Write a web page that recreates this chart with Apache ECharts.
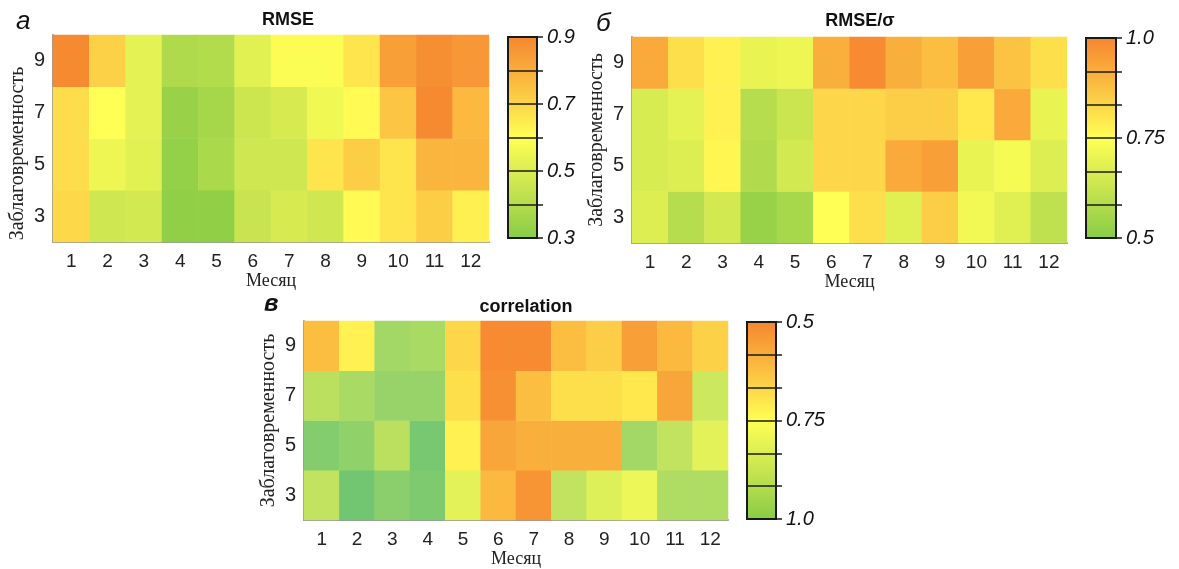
<!DOCTYPE html>
<html><head><meta charset="utf-8">
<script src="https://cdn.jsdelivr.net/npm/echarts@6/dist/echarts.min.js"></script>
<style>html,body{margin:0;padding:0;background:#fff}#c{width:1179px;height:569px}</style>
</head><body><div id="c"></div>
<script>
// ---- data ----
const months = ['1','2','3','4','5','6','7','8','9','10','11','12'];
const leads = ['3','5','7','9'];

const rmse9 = [0.89,0.72,0.53,0.39,0.40,0.52,0.59,0.59,0.67,0.84,0.88,0.86];
const rmse7 = [0.69,0.60,0.53,0.34,0.37,0.46,0.49,0.56,0.61,0.75,0.89,0.78];
const rmse5 = [0.69,0.55,0.52,0.33,0.38,0.47,0.47,0.67,0.73,0.67,0.79,0.79];
const rmse3 = [0.70,0.47,0.48,0.32,0.32,0.45,0.49,0.47,0.61,0.67,0.73,0.64];

const ratio9 = [0.93,0.82,0.78,0.70,0.71,0.92,0.99,0.92,0.89,0.95,0.88,0.82];
const ratio7 = [0.66,0.69,0.78,0.59,0.63,0.84,0.84,0.86,0.86,0.80,0.93,0.70];
const ratio5 = [0.66,0.67,0.77,0.58,0.65,0.84,0.84,0.93,0.95,0.70,0.73,0.67];
const ratio3 = [0.67,0.59,0.65,0.53,0.56,0.75,0.82,0.68,0.86,0.72,0.68,0.61];

const corr9 = [0.61,0.72,0.91,0.90,0.66,0.51,0.51,0.61,0.64,0.55,0.60,0.65];
const corr7 = [0.87,0.90,0.93,0.93,0.68,0.52,0.61,0.68,0.68,0.70,0.56,0.84];
const corr5 = [0.96,0.94,0.87,0.98,0.72,0.56,0.58,0.58,0.58,0.91,0.86,0.80];
const corr3 = [0.86,0.99,0.95,0.97,0.80,0.60,0.53,0.86,0.81,0.78,0.89,0.89];

const cbTicksA = ['0.3','','0.5','','0.7','','0.9'];
const cbTicksB = ['0.5','','','0.75','','','1.0'];
const cbTicksC = ['1.0','','','0.75','','','0.5'];

// ---- helpers ----
function cells(rows){ // rows ordered as leads
  const out = [];
  rows.forEach((arr, yi) => arr.forEach((v, xi) => out.push([xi, yi, v])));
  return out;
}
const SANS = '"Liberation Sans", Arial, sans-serif';
const SERIF = '"Liberation Serif", "Times New Roman", serif';

const heatGrids = [
  {left:53, top:35, width:436, height:207},
  {left:632, top:37, width:435, height:206},
  {left:304, top:321, width:424, height:201}
];
const cbGrids = [
  {left:508, top:37, width:29, height:201},
  {left:1086, top:38, width:30, height:200},
  {left:747, top:322, width:29, height:197}
];
const cbTicks = [cbTicksA, cbTicksB, cbTicksC];

function cbGradient(){
  return new echarts.graphic.LinearGradient(0,0,0,1,[
    {offset:0, color:'#f5862f'},
    {offset:0.25, color:'#fbc042'},
    {offset:0.5, color:'#ffff55'},
    {offset:0.75, color:'#c8e450'},
    {offset:1, color:'#88cc46'}
  ]);
}

const grid = [];
const xAxis = [];
const yAxis = [];
heatGrids.forEach((g, i) => {
  grid.push(Object.assign({containLabel:false}, g));
  xAxis.push({
    type:'category', gridIndex:i, data:months,
    axisLine:{show:true, lineStyle:{color:'#9a9a9a', width:2}},
    axisTick:{show:false},
    axisLabel:{fontFamily:SANS, fontSize:19, color:'#222', margin:10, interval:0},
    name:'Месяц', nameLocation:'middle', nameGap:30,
    nameTextStyle:{fontFamily:SERIF, fontSize:18, color:'#222'}
  });
  yAxis.push({
    type:'category', gridIndex:i, data:leads,
    axisLine:{show:true, lineStyle:{color:'#9a9a9a', width:2}},
    axisTick:{show:false},
    axisLabel:{fontFamily:SANS, fontSize:20, color:'#222', margin:8},
    name:'Заблаговременность', nameLocation:'middle', nameGap:25,
    nameTextStyle:{fontFamily:SERIF, fontSize:20, color:'#222',
      padding: i === 0 ? [0,30,0,0] : 0}
  });
});
cbGrids.forEach((g, i) => {
  grid.push(Object.assign({containLabel:false, show:true, backgroundColor:cbGradient(),
    borderColor:'#1a1a1a', borderWidth:2}, g));
  xAxis.push({type:'category', gridIndex:3+i, data:[''], show:false});
  yAxis.push({
    type:'category', gridIndex:3+i, data:cbTicks[i], boundaryGap:false, position:'right',
    axisLine:{show:false},
    axisTick:{show:true, interval:0, length:6, lineStyle:{color:'#1a1a1a', width:1.5}},
    splitLine:{show:true, interval:0, lineStyle:{color:'#1a1a1a', width:1.5}},
    axisLabel:{show:true, interval:0, margin:10, fontFamily:SANS, fontStyle:'italic',
      fontSize:20, color:'#111'}
  });
});

const series = [
  {type:'heatmap', xAxisIndex:0, yAxisIndex:0, data:cells([rmse3, rmse5, rmse7, rmse9])},
  {type:'heatmap', xAxisIndex:1, yAxisIndex:1, data:cells([ratio3, ratio5, ratio7, ratio9])},
  {type:'heatmap', xAxisIndex:2, yAxisIndex:2, data:cells([corr3, corr5, corr7, corr9])}
];

const visualMap = [
  {type:'continuous', show:false, seriesIndex:0, dimension:2, min:0.3, max:0.9,
   inRange:{color:['#88cc46','#c8e450','#ffff55','#fcc644','#f5862f']}},
  {type:'continuous', show:false, seriesIndex:1, dimension:2, min:0.5, max:1.0,
   inRange:{color:['#88cc46','#c8e450','#ffff55','#fcc644','#f5862f']}},
  {type:'continuous', show:false, seriesIndex:2, dimension:2, min:0.5, max:1.0,
   inRange:{color:['#f5862f','#fcc644','#ffff55','#b8df60','#6cc474']}}
];

function txt(t, x, y, size, weight, style, align){
  return {type:'text', x:x, y:y, style:{text:t, fontFamily:SANS, fontSize:size,
    fontWeight:weight||'normal', fontStyle:style||'normal', fill:'#111',
    align:align||'center', verticalAlign:'middle'}};
}
const graphic = [
  txt('RMSE', 288, 20, 18, 'bold'),
  txt('RMSE/σ', 860, 21, 18, 'bold'),
  txt('correlation', 526, 307, 18, 'bold'),
  txt('а', 16, 22, 26, 'normal', 'italic', 'left'),
  txt('б', 596, 24, 26, 'normal', 'italic', 'left'),
  txt('в', 264, 304, 24, 'bold', 'italic', 'left')
];

const chart = echarts.init(document.getElementById('c'), null, {renderer:'canvas'});
chart.setOption({animation:false, backgroundColor:'#fff', grid, xAxis, yAxis, series, visualMap, graphic});
</script></body></html>
